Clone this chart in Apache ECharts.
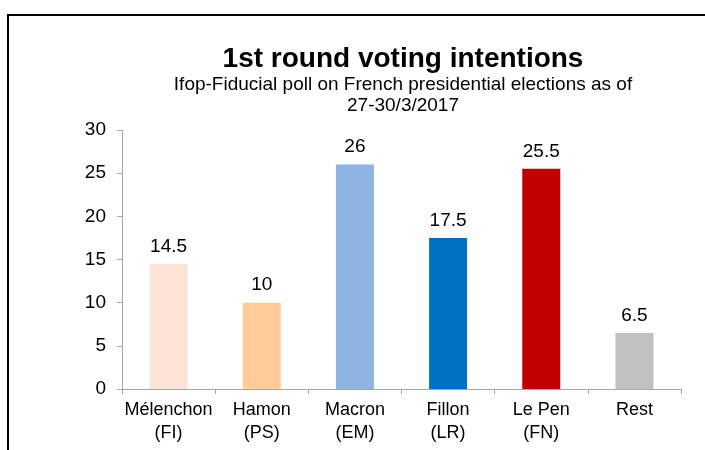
<!DOCTYPE html>
<html>
<head>
<meta charset="utf-8">
<script src="https://cdn.jsdelivr.net/npm/echarts@6/dist/echarts.min.js"></script>
<style>
  html, body { margin: 0; padding: 0; background: #fff; }
  #chart { width: 705px; height: 450px; }
</style>
</head>
<body>
<div id="chart"></div>
<script>
// données du sondage
var categories = ['Mélenchon\n(FI)', 'Hamon\n(PS)', 'Macron\n(EM)', 'Fillon\n(LR)', 'Le Pen\n(FN)', 'Rest'];
var values = [14.5, 10, 26, 17.5, 25.5, 6.5];
var barColors = ['#FCE4D6', '#FFCC99', '#8EB4E3', '#0070C0', '#C00000', '#C0C0C0'];
var yTicks = [0, 5, 10, 15, 20, 25, 30];

var font = 'Liberation Sans, Arial, sans-serif';

var chart = echarts.init(document.getElementById('chart'));
chart.setOption({
  animation: false,
  textStyle: { fontFamily: font },
  graphic: [{
    type: 'rect',
    shape: { x: 8, y: 15, width: 800, height: 600 },
    style: { fill: 'none', stroke: '#000', lineWidth: 2 },
    silent: true
  }],
  title: [{
    text: '1st round voting intentions',
    left: 398,
    top: 40,
    textAlign: 'center',
    textStyle: { fontFamily: font, fontSize: 28, fontWeight: 'bold', color: '#000', lineHeight: 28 }
  }, {
    text: 'Ifop-Fiducial poll on French presidential elections as of\n27-30/3/2017',
    left: 398,
    top: 69,
    textAlign: 'center',
    textStyle: { fontFamily: font, fontSize: 19, fontWeight: 'normal', color: '#000', lineHeight: 21 }
  }],
  grid: { left: 122, right: 24, top: 130, bottom: 61, containLabel: false },
  xAxis: {
    type: 'category',
    data: categories,
    axisLine: { lineStyle: { color: '#A6A6A6', width: 1 } },
    axisTick: { show: true, length: 5, lineStyle: { color: '#A6A6A6' } },
    axisLabel: { fontFamily: font, fontSize: 18, color: '#000', lineHeight: 23, margin: 10, interval: 0 }
  },
  yAxis: {
    type: 'value',
    min: yTicks[0],
    max: yTicks[yTicks.length - 1],
    interval: 5,
    splitLine: { show: false },
    axisLine: { show: true, lineStyle: { color: '#A6A6A6', width: 1 } },
    axisTick: { show: true, length: 5, lineStyle: { color: '#A6A6A6' } },
    axisLabel: { fontFamily: font, fontSize: 19, color: '#000', margin: 16 }
  },
  series: [{
    type: 'bar',
    barWidth: 38,
    data: values.map(function (v, i) {
      return { value: v, itemStyle: { color: barColors[i] } };
    }),
    label: {
      show: true,
      position: 'top',
      distance: 8,
      fontFamily: font,
      fontSize: 19,
      color: '#000'
    }
  }]
});
</script>
</body>
</html>
